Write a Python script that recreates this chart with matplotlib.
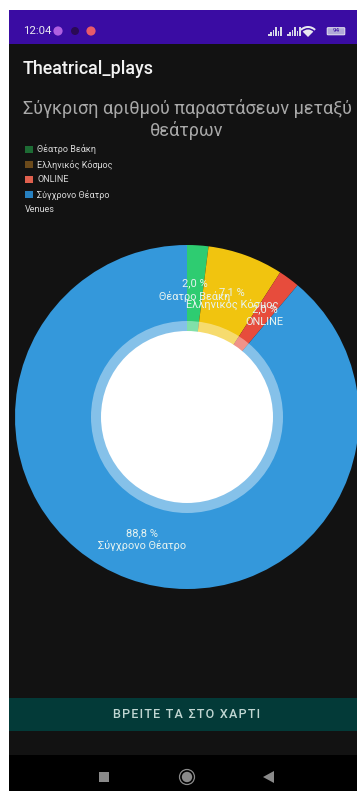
import matplotlib
matplotlib.use("Agg")
import matplotlib.pyplot as plt
from matplotlib.patches import Rectangle, Circle, Polygon, Patch, FancyBboxPatch, Wedge

plt.rcParams['font.family'] = ['Roboto', 'DejaVu Sans']

venues = ["Θέατρο Βεάκη", "Ελληνικός Κόσμος", "ONLINE", "Σύγχρονο Θέατρο"]
shares = [2.0, 7.1, 2.0, 88.8]
share_labels = ["2,0 %", "7,1 %", "2,0 %", "88,8 %"]
slice_colors = ["#2ecc71", "#f1c40f", "#e74c3c", "#3498db"]
legend_colors = ["#1d6b34", "#6b4a1b", "#e0604e", "#2780c0"]
label_pos = [(195, 283), (232, 292), (265, 309), (142, 533)]
name_pos = [(195, 297), (232, 305), (264, 322), (142, 546)]

W, H = 357, 791
fig = plt.figure(figsize=(W / 100, H / 100), dpi=100, facecolor="white")
ax = fig.add_axes([0, 0, 1, 1])

# pie on a pixel grid, y runs downward so increasing angle goes clockwise
cx, cy, radius = 187, 417, 172
ax.pie(shares, colors=slice_colors, center=(cx, cy), radius=radius,
       startangle=-90, counterclock=True, frame=True,
       wedgeprops=dict(linewidth=0, zorder=2))
ax.set_xlim(0, W)
ax.set_ylim(H, 0)
ax.set_aspect("auto")
ax.set_axis_off()


def box(x, y, w, h, color, z=0):
    ax.add_patch(Rectangle((x, y), w, h, facecolor=color, edgecolor="none", zorder=z))


# screen chrome
box(9, 10, W - 9, 34, "#3a0ca3")
box(9, 44, W - 9, 711, "#121212")
box(9, 755, W - 9, 36, "#000000")
box(9, 698, W - 9, 33, "#033a38")

# donut hole
ax.add_patch(Circle((cx, cy), 96, facecolor="white", alpha=0.4, edgecolor="none", zorder=3))
ax.add_patch(Circle((cx, cy), 86, facecolor="white", edgecolor="none", zorder=4))

# slice labels
for text, pos in zip(share_labels, label_pos):
    ax.text(pos[0], pos[1], text, color="#e6f3f0", fontsize=8.0, ha="center", va="center", zorder=5)
for text, pos in zip(venues, name_pos):
    ax.text(pos[0], pos[1], text, color="#e6f3f0", fontsize=7.9, ha="center", va="center", zorder=5)

# header text
ax.text(23, 69, "Theatrical_plays", color="#f2f2f2", fontsize=12.9, fontweight="medium", ha="left", va="center")
ax.text(187, 108, "Σύγκριση αριθμού παραστάσεων μεταξύ", color="#a8a8a8", fontsize=13.0, ha="center", va="center")
ax.text(187, 130, "θεάτρων", color="#a8a8a8", fontsize=13.0, ha="center", va="center")

# legend with the axis title as its last row
handles = [Patch(facecolor=c, edgecolor="none") for c in legend_colors]
handles.append(Patch(facecolor="none", edgecolor="none"))
leg = ax.legend(handles, venues + ["Venues"], loc="upper left",
                bbox_to_anchor=(25 / W, 1 - 144.5 / H), frameon=False,
                fontsize=6.5, labelcolor="#d8d8d8", handlelength=0.85,
                handleheight=0.85, handletextpad=0.5, labelspacing=0.62,
                borderpad=0, borderaxespad=0)
leg.set_zorder(6)
leg.get_texts()[-1].set_position((-12, 0))

# status bar
ax.text(23, 31, "12:04", color="#e8e8f0", fontsize=8.2, ha="left", va="center")
ax.add_patch(Circle((58, 31), 4.6, facecolor="#b060e0", edgecolor="none"))
ax.add_patch(Circle((75, 31), 4.0, facecolor="#2a0a55", edgecolor="none"))
ax.add_patch(Circle((91, 31), 4.6, facecolor="#e85a6a", edgecolor="none"))
for x0 in (268, 287):
    for i, h in enumerate([2, 4, 6, 9, 5, 9]):
        box(x0 + i * 2.4, 36 - h, 1.5, h, "#d8d8e8", 1)
ax.add_patch(Wedge((308, 37), 11, -135, -45, width=2, facecolor="#e8e8f0", edgecolor="none", zorder=1))
ax.add_patch(Wedge((308, 37), 7.5, -135, -45, width=7.5, facecolor="#e8e8f0", edgecolor="none", zorder=1))
ax.add_patch(FancyBboxPatch((328, 28.5), 16, 5.5, boxstyle="round,pad=0.8", facecolor="#b0a8d8",
                            edgecolor="#e8e8f0", linewidth=0.7, zorder=1))
ax.text(336, 31, "94", color="#3a0ca3", fontsize=4.6, ha="center", va="center", zorder=2)

# map button, hair spaces give the wide tracking
button_text = "\u200a".join("ΒΡΕΙΤΕ ΤΑ ΣΤΟ ΧΑΡΤΙ")
ax.text(187, 715, button_text, color="#c0d6d2", fontsize=9.0, fontweight="medium",
        ha="center", va="center", zorder=1)

# navigation bar
box(99, 772, 10, 10, "#8a8a8a", 1)
ax.add_patch(Circle((187, 777), 7.5, facecolor="none", edgecolor="#8a8a8a", linewidth=0.9, zorder=1))
ax.add_patch(Circle((187, 777), 5.2, facecolor="#8a8a8a", edgecolor="none", zorder=1))
ax.add_patch(Polygon([(263, 777), (274, 771), (274, 783)], facecolor="#8a8a8a", edgecolor="none", zorder=1))

fig.savefig("out.png", dpi=100, facecolor="white")
